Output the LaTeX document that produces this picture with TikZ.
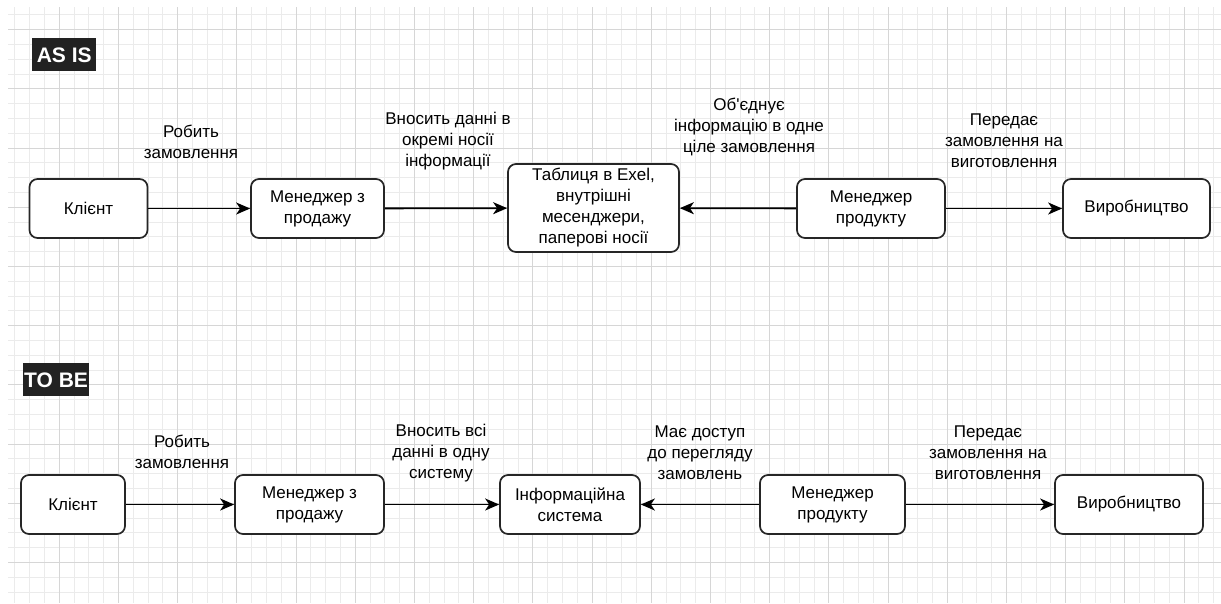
\documentclass[tikz,border=0pt]{standalone}
\usepackage{fontspec}
\setmainfont{Liberation Sans}
\usetikzlibrary{arrows.meta}
\definecolor{gridminor}{HTML}{EBEBEB}
\definecolor{gridmajor}{HTML}{D6D6D6}
\definecolor{headfill}{HTML}{222222}
\tikzset{
	box/.style={draw=black!85, line width=1.7pt, rounded corners=8pt, fill=white, align=center, minimum height=59pt, inner sep=2pt, font=\fontsize{17}{21}\selectfont},
	lbl/.style={align=center, inner sep=0pt, font=\fontsize{17}{21}\selectfont},
	flow/.style={line width=1.8pt, -{Stealth[length=14pt,width=12pt,inset=4pt]}},
	head/.style={fill=headfill, text=white, anchor=north west, inner xsep=1pt, inner ysep=0pt, minimum height=33pt, text depth=0pt, font=\fontsize{21}{24}\bfseries\selectfont}
}
\begin{document}
\begin{tikzpicture}[x=1pt,y=-1pt]
		\useasboundingbox (0,0) rectangle (1221,603);
		%grid
			\foreach \i in {1,...,82}
				\draw[gridminor, line width=0.8pt] ({14.8*\i},7) -- ({14.8*\i},603);
			\foreach \j in {1,...,40}
				\draw[gridminor, line width=0.8pt] (8,{14.8*\j}) -- (1221,{14.8*\j});
			\foreach \i in {1,...,20}
				\draw[gridmajor, line width=0.8pt] ({59.2*\i},7) -- ({59.2*\i},603);
			\foreach \j in {0,...,9}
				\draw[gridmajor, line width=0.8pt] (8,{29.6+59.2*\j}) -- (1221,{29.6+59.2*\j});
		%AS IS
			\node[head, minimum width=64pt] (asis) at (32,38) {AS IS};
			\node[box, minimum width=118pt] (klient1) at (88.5,208.5) {Клієнт};
			\node[box, minimum width=133pt] (manager1) at (317.5,208.5) {Менеджер з\\продажу};
			\node[box, minimum width=171pt, minimum height=88pt] (table) at (593.5,208) {Таблиця в Exel,\\внутрішні\\месенджери,\\паперові носії};
			\node[box, minimum width=148pt] (prodmgr1) at (871,208.5) {Менеджер\\продукту};
			\node[box, minimum width=147pt] (vyrob1) at (1136.5,208.5) {Виробництво};
			\draw[flow] (klient1) -- (manager1);
			\draw[flow] (manager1) -- (table);
			\draw[flow] (prodmgr1) -- (table);
			\draw[flow] (prodmgr1) -- (vyrob1);
			\node[lbl] (order1) at (191,141.5) {Робить\\замовлення};
			\node[lbl] (enter1) at (448,141) {Вносить данні в\\окремі носії\\інформації};
			\node[lbl] (merge1) at (749,126.5) {Об\textquotesingle єднує\\інформацію в одне\\ціле замовлення};
			\node[lbl] (pass1) at (1004,140.5) {Передає\\замовлення на\\виготовлення};
		%TO BE
			\node[head, minimum width=65pt] (tobe) at (23,363) {TO BE};
			\node[box, minimum width=104pt] (klient2) at (73,504.5) {Клієнт};
			\node[box, minimum width=149pt] (manager2) at (309.5,504.5) {Менеджер з\\продажу};
			\node[box, minimum width=140pt] (infosys) at (570,504.5) {Інформаційна\\система};
			\node[box, minimum width=145pt] (prodmgr2) at (832.5,504.5) {Менеджер\\продукту};
			\node[box, minimum width=148pt] (vyrob2) at (1129,504.5) {Виробництво};
			\draw[flow] (klient2) -- (manager2);
			\draw[flow] (manager2) -- (infosys);
			\draw[flow] (prodmgr2) -- (infosys);
			\draw[flow] (prodmgr2) -- (vyrob2);
			\node[lbl] (order2) at (182,452) {Робить\\замовлення};
			\node[lbl] (enter2) at (441,453) {Вносить всі\\данні в одну\\систему};
			\node[lbl] (access2) at (700,453) {Має доступ\\до перегляду\\замовлень};
			\node[lbl] (pass2) at (988,453) {Передає\\замовлення на\\виготовлення};
	\end{tikzpicture}
\end{document}
